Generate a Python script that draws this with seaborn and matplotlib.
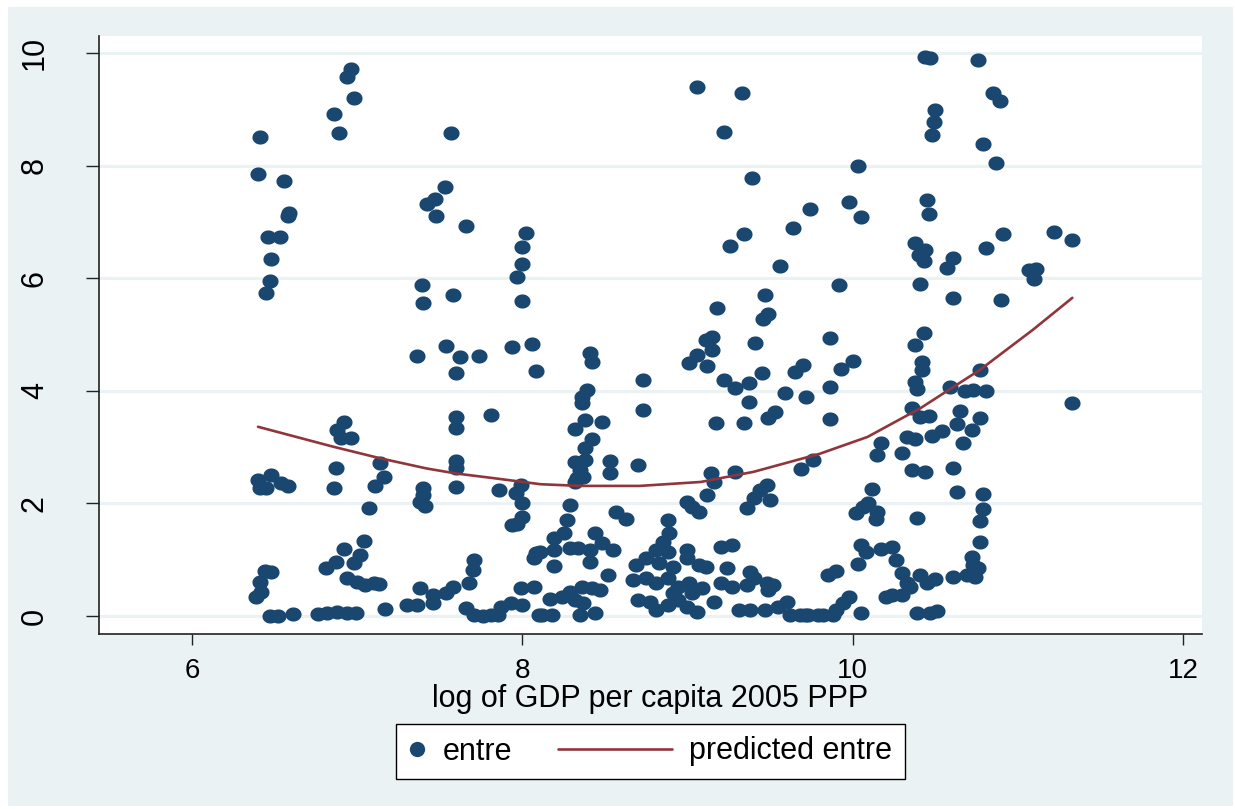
import numpy as np
import pandas as pd
import seaborn as sns
import matplotlib.pyplot as plt
from matplotlib.patches import Rectangle
from matplotlib.lines import Line2D
from matplotlib.path import Path
from matplotlib.legend_handler import HandlerLine2D

# entre vs log GDP per capita (gdp, entre)
pts_low = [
    (6.41, 8.51), (6.40, 7.85), (6.56, 7.73), (6.59, 7.16), (6.58, 7.10), (6.46, 6.73), (6.53, 6.73),
    (6.48, 6.34), (6.47, 5.95), (6.45, 5.74), (6.96, 9.72), (6.94, 9.58), (6.98, 9.20), (6.86, 8.92),
    (6.89, 8.58), (7.47, 7.41), (7.42, 7.32), (7.48, 7.11), (7.39, 5.88), (7.40, 5.56), (7.36, 4.62),
    (6.92, 3.45), (6.88, 3.30), (6.90, 3.16), (6.96, 3.16), (6.87, 2.63), (6.86, 2.27),
    (7.14, 2.72), (7.16, 2.47), (7.11, 2.31), (7.07, 1.92),
    (6.40, 2.42), (6.48, 2.50), (6.41, 2.27), (6.45, 2.27), (6.54, 2.36), (6.58, 2.31),
    (7.40, 2.27), (7.40, 2.15), (7.38, 2.02), (7.41, 1.95),
    (7.04, 1.33), (6.92, 1.19), (7.02, 1.08), (6.98, 0.94), (6.87, 0.96), (6.81, 0.85),
    (6.94, 0.67), (7.00, 0.61), (7.05, 0.55), (7.10, 0.59), (7.13, 0.57),
    (6.44, 0.80), (6.48, 0.78), (6.41, 0.60), (6.42, 0.43), (6.39, 0.34),
    (7.38, 0.50), (7.46, 0.37), (7.30, 0.20), (7.36, 0.20), (7.17, 0.12), (7.46, 0.23),
    (6.47, 0.00), (6.52, 0.00), (6.61, 0.04), (6.76, 0.04), (6.82, 0.06), (6.88, 0.07),
    (6.94, 0.06), (6.99, 0.06),
]

pts_lowmid = [
    (7.57, 8.58), (7.53, 7.62), (7.66, 6.93), (7.58, 5.70),
    (8.02, 6.80), (8.00, 6.56), (8.00, 6.25), (7.97, 6.02), (8.00, 5.60),
    (7.54, 4.80), (7.62, 4.60), (7.60, 4.32), (7.74, 4.62), (7.94, 4.78), (8.06, 4.83), (8.08, 4.35),
    (7.60, 3.53), (7.60, 3.34), (7.81, 3.57), (7.60, 2.75), (7.60, 2.63), (7.60, 2.29),
    (7.86, 2.24), (7.99, 2.33), (7.96, 2.18), (8.00, 2.00), (8.00, 1.76), (7.94, 1.62), (7.97, 1.63),
    (8.41, 4.67), (8.42, 4.51), (8.39, 4.01), (8.36, 3.89), (8.36, 3.78), (8.38, 3.48), (8.48, 3.45),
    (8.32, 3.32), (8.42, 3.14), (8.38, 2.98), (8.32, 2.74), (8.38, 2.77), (8.35, 2.59), (8.33, 2.45),
    (8.37, 2.47), (8.32, 2.38), (8.29, 1.97), (8.27, 1.71),
    (7.54, 0.41), (7.58, 0.52), (7.68, 0.59), (7.70, 0.82), (7.71, 1.00),
    (7.66, 0.14), (7.71, 0.02), (7.76, 0.00), (7.81, 0.02), (7.85, 0.02), (7.93, 0.23), (8.00, 0.20),
    (7.87, 0.16), (7.99, 0.50), (8.07, 0.52), (8.07, 1.03), (8.10, 0.02),
    (8.08, 1.12), (8.11, 1.14), (8.19, 1.39), (8.19, 1.17), (8.25, 1.47), (8.29, 1.21), (8.34, 1.21),
    (8.41, 1.17), (8.44, 1.47), (8.48, 1.30), (8.41, 0.96), (8.19, 0.89),
    (8.17, 0.30), (8.24, 0.34), (8.29, 0.43), (8.36, 0.52), (8.42, 0.50), (8.47, 0.46), (8.32, 0.28),
    (8.37, 0.23), (8.12, 0.02), (8.18, 0.02), (8.35, 0.02), (8.44, 0.05),
]

pts_mid = [
    (9.06, 9.40), (9.33, 9.29), (9.22, 8.60), (9.39, 7.78), (9.34, 6.78), (9.26, 6.57),
    (9.47, 5.70), (9.49, 5.36), (9.46, 5.27), (9.18, 5.47), (8.73, 4.19), (8.73, 3.66),
    (9.11, 4.90), (9.15, 4.96), (9.15, 4.72), (9.06, 4.64), (9.01, 4.49), (9.12, 4.44), (9.41, 4.85),
    (9.22, 4.19), (9.29, 4.05), (9.37, 4.14), (9.45, 4.32), (9.37, 3.80), (9.49, 3.52), (9.17, 3.43),
    (9.34, 3.43), (8.53, 2.75), (8.53, 2.54), (8.70, 2.68), (8.57, 1.85), (8.63, 1.72),
    (9.14, 2.54), (9.16, 2.38), (9.29, 2.56), (9.12, 2.15), (9.00, 2.02), (9.03, 1.94), (9.07, 1.85),
    (9.48, 2.33), (9.44, 2.24), (9.40, 2.10), (9.36, 1.92),
    (8.88, 1.71), (8.89, 1.47), (8.85, 1.31), (8.81, 1.17), (8.88, 1.14), (9.00, 1.17), (9.00, 1.03),
    (8.75, 1.03), (8.69, 0.91), (8.83, 0.94), (8.91, 0.87), (9.07, 0.91), (9.11, 0.87), (9.20, 1.23),
    (9.27, 1.26), (9.24, 0.85), (9.38, 0.78), (9.40, 0.67), (9.48, 0.59), (8.55, 1.17), (8.52, 0.73),
    (8.67, 0.64), (8.75, 0.67), (8.81, 0.59), (8.88, 0.67), (8.94, 0.52), (9.01, 0.59), (9.09, 0.50),
    (9.20, 0.59), (9.27, 0.52), (9.36, 0.55),
    (8.70, 0.28), (8.77, 0.25), (8.81, 0.11), (8.88, 0.20), (8.94, 0.28), (9.00, 0.16), (9.06, 0.07),
    (9.16, 0.25), (8.91, 0.41), (9.03, 0.41), (9.31, 0.11), (9.38, 0.11), (9.47, 0.11),
]

pts_highmid = [
    (9.74, 7.23), (9.64, 6.89), (9.56, 6.22), (9.59, 3.96), (9.72, 3.89), (9.65, 4.33), (9.70, 4.46),
    (9.53, 3.62), (9.69, 2.61), (9.76, 2.77), (9.50, 2.06), (9.52, 0.55), (9.49, 0.46),
    (9.55, 0.16), (9.60, 0.25), (9.62, 0.02), (9.68, 0.02), (9.73, 0.02), (9.79, 0.02),
    (10.44, 9.93), (10.47, 9.91), (10.50, 8.99), (10.49, 8.77), (10.48, 8.54), (10.03, 8.00),
    (9.98, 7.35), (10.05, 7.09), (10.45, 7.39), (10.46, 7.14),
    (10.38, 6.63), (10.44, 6.50), (10.40, 6.41), (10.43, 6.31),
    (9.92, 5.88), (10.41, 5.90), (9.86, 4.94), (10.43, 5.03), (10.38, 4.81),
    (9.93, 4.39), (10.00, 4.53), (9.86, 4.07), (9.86, 3.50),
    (10.42, 4.51), (10.42, 4.37), (10.38, 4.16), (10.39, 4.03),
    (10.36, 3.69), (10.41, 3.53), (10.46, 3.55), (10.33, 3.18), (10.38, 3.14), (10.48, 3.20),
    (10.17, 3.07), (10.15, 2.86), (10.30, 2.90), (10.36, 2.59), (10.44, 2.56),
    (10.12, 2.26), (10.09, 2.01), (10.02, 1.83), (10.15, 1.85), (10.14, 1.72), (10.06, 1.94), (10.39, 1.74),
    (10.05, 1.26), (10.08, 1.14), (10.17, 1.19), (10.24, 1.23), (10.26, 1.00),
    (10.03, 0.92), (9.85, 0.73), (9.90, 0.80),
    (10.30, 0.76), (10.33, 0.59), (10.41, 0.73), (10.45, 0.59), (10.50, 0.66),
    (10.20, 0.34), (10.24, 0.37), (10.30, 0.37), (10.35, 0.52),
    (9.98, 0.34), (9.94, 0.23), (9.90, 0.11), (9.82, 0.02), (9.88, 0.02), (9.71, 0.02), (10.05, 0.05),
    (10.39, 0.05), (10.47, 0.05), (10.51, 0.09),
]

pts_high = [
    (10.76, 9.88), (10.85, 9.29), (10.89, 9.15), (10.79, 8.38), (10.87, 8.05),
    (11.22, 6.82), (11.33, 6.68), (10.91, 6.78), (10.81, 6.54),
    (10.61, 6.36), (10.57, 6.18), (11.07, 6.15), (11.11, 6.16), (11.10, 5.99),
    (10.61, 5.65), (10.90, 5.61),
    (10.59, 4.07), (10.68, 4.00), (10.73, 4.01), (10.81, 4.00), (10.77, 4.37),
    (10.65, 3.64), (10.63, 3.41), (10.77, 3.52), (10.72, 3.30), (10.67, 3.07), (10.54, 3.29),
    (10.61, 2.63), (10.63, 2.20), (10.79, 2.17), (10.79, 1.90), (10.77, 1.69), (10.77, 1.31),
    (10.61, 0.69), (10.69, 0.73), (10.73, 0.91), (10.72, 1.05), (10.76, 0.85), (10.74, 0.69),
    (11.33, 3.78),
]

# fitted line (predicted entre), read at points along the curve
pred_gdp = [6.40, 6.85, 7.14, 7.42, 7.60, 7.82, 8.11, 8.35, 8.71, 9.08, 9.40,
            9.80, 10.09, 10.41, 10.77, 11.09, 11.33]
pred_entre = [3.36, 3.01, 2.80, 2.62, 2.53, 2.45, 2.34, 2.31, 2.31, 2.38, 2.56,
              2.88, 3.18, 3.69, 4.37, 5.08, 5.65]

navy = "#1A476F"
maroon = "#90353B"
bg = "#EAF2F3"

all_pts = pts_low + pts_lowmid + pts_mid + pts_highmid + pts_high
df = pd.DataFrame(all_pts, columns=["gdp", "entre"])

# slightly wide dot, like the stretched Stata markers
t = np.linspace(0, 2 * np.pi, 40)
dot = Path(np.column_stack([1.14 * np.cos(t), np.sin(t)]), closed=True)

sns.set_theme(style="white")
plt.rcParams["font.family"] = ["Liberation Sans", "DejaVu Sans"]
plt.rcParams["text.color"] = "black"

W, H = 1235, 809
fig = plt.figure(figsize=(W / 100, H / 100), dpi=100, facecolor="white")
fig.patches.append(Rectangle((8 / W, 3 / H), (1233 - 8) / W, (802 - 3) / H,
                             transform=fig.transFigure, facecolor=bg,
                             edgecolor="none", zorder=-5))
ax = fig.add_axes([99 / W, 1 - 634 / H, (1202 - 99) / W, (634 - 36) / H])
ax.set_zorder(2)
ax.set_facecolor("white")

sns.scatterplot(data=df, x="gdp", y="entre", ax=ax, color=navy, s=135,
                marker=dot, linewidth=0, legend=False, zorder=3)
sns.lineplot(x=pred_gdp, y=pred_entre, ax=ax, color=maroon, linewidth=1.9,
             sort=False, estimator=None, zorder=4)

ax.set_xlim(5.437, 12.115)
ax.set_ylim(-0.32, 10.30)
ax.set_xticks([6, 8, 10, 12])
ax.set_yticks([0, 2, 4, 6, 8, 10])
ax.yaxis.grid(True, color=bg, linewidth=2.2)
ax.xaxis.grid(False)
ax.set_axisbelow(True)

for s in ["top", "right"]:
    ax.spines[s].set_visible(False)
for s in ["left", "bottom"]:
    ax.spines[s].set_color("#222222")
    ax.spines[s].set_linewidth(1.2)

ax.tick_params(axis="y", length=9.4, width=1, pad=26, labelsize=22,
               color="#222222", labelcolor="black", left=True)
ax.tick_params(axis="x", length=8, width=1, pad=9, labelsize=20,
               color="#222222", labelcolor="black", bottom=True)
for lab in ax.get_yticklabels():
    lab.set_rotation(90)
    lab.set_va("center")

ax.set_xlabel("log of GDP per capita 2005 PPP", fontsize=22, labelpad=0, color="black")
ax.set_ylabel("")


class LongLine(HandlerLine2D):
    def create_artists(self, legend, orig_handle, xdescent, ydescent, width,
                       height, fontsize, trans):
        extra = 3.16 * fontsize
        return super().create_artists(legend, orig_handle, xdescent + extra,
                                      ydescent, width + extra, height,
                                      fontsize, trans)


h_dot = Line2D([], [], marker="o", linestyle="none", color=navy, markersize=11,
               markeredgewidth=0)
h_line = Line2D([], [], color=maroon, linewidth=1.9)
leg = fig.legend([h_dot, h_line], ["entre", "predicted entre"], loc="center",
                 bbox_to_anchor=(650 / W, 1 - 751.5 / H), ncol=2, frameon=True,
                 fancybox=False, edgecolor="black", framealpha=1,
                 facecolor="white", fontsize=22, handlelength=0.6,
                 handletextpad=0.55, columnspacing=4.64, borderpad=0.4,
                 handler_map={h_line: LongLine()})
leg.get_frame().set_linewidth(1.0)
for t in leg.get_texts():
    t.set_color("black")

fig.savefig("out.png", dpi=100, facecolor=fig.get_facecolor())
